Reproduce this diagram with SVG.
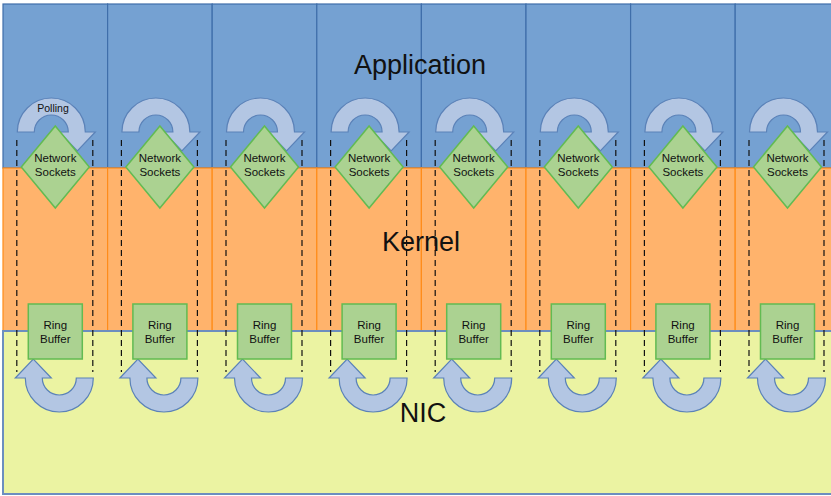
<svg xmlns="http://www.w3.org/2000/svg" xmlns:xlink="http://www.w3.org/1999/xlink" width="831" height="496" viewBox="0 0 831 496">
  <style>
    .app { fill: #75A1D2; stroke: #3F6EAA; stroke-width: 1.2; }
    .ker { fill: #FFB36C; stroke: #FF8C1A; stroke-width: 1.2; }
    .nic { fill: #EBF3A2; stroke: #6C8EBF; stroke-width: 2; }
    .turn { fill: #B3C6E3; stroke: #5B82B8; stroke-width: 1.2; }
    .sock { fill: #ABD291; stroke: #62BB52; stroke-width: 1.5; }
    .ring { fill: #ABD291; stroke: #62BB52; stroke-width: 1.5; }
    .lane { stroke: #111; stroke-width: 1.2; stroke-dasharray: 6 4; fill: none; }
    .lbl { font-family: "Liberation Sans", Arial, sans-serif; fill: #111; text-anchor: middle; }
    .small { font-size: 11.5px; }
    .big { font-size: 27px; }
  </style>
  <defs>
    <!-- U-turn arrow around origin: arc below, arrowhead on the left pointing up -->
    <path id="uturn" d="M-34,0 A34,34 0 0 0 34,0 L17,0 A17,17 0 0 1 -17,0 L-8,0 L-26,-19 L-44,0 Z"/>
  </defs>

  <!-- Layer bands -->
  <g id="application">
    <rect class="app" x="3" y="4" width="104.6" height="164"/>
    <rect class="app" x="107.6" y="4" width="104.6" height="164"/>
    <rect class="app" x="212.2" y="4" width="104.6" height="164"/>
    <rect class="app" x="316.8" y="4" width="104.6" height="164"/>
    <rect class="app" x="421.4" y="4" width="104.6" height="164"/>
    <rect class="app" x="526" y="4" width="104.6" height="164"/>
    <rect class="app" x="630.6" y="4" width="104.6" height="164"/>
    <rect class="app" x="735.2" y="4" width="104.6" height="164"/>
    <text class="lbl big" x="420" y="74">Application</text>
  </g>
  <g id="kernel">
    <rect class="ker" x="3" y="168" width="104.6" height="163"/>
    <rect class="ker" x="107.6" y="168" width="104.6" height="163"/>
    <rect class="ker" x="212.2" y="168" width="104.6" height="163"/>
    <rect class="ker" x="316.8" y="168" width="104.6" height="163"/>
    <rect class="ker" x="421.4" y="168" width="104.6" height="163"/>
    <rect class="ker" x="526" y="168" width="104.6" height="163"/>
    <rect class="ker" x="630.6" y="168" width="104.6" height="163"/>
    <rect class="ker" x="735.2" y="168" width="104.6" height="163"/>
    <text class="lbl big" x="421" y="251">Kernel</text>
  </g>
  <g id="nic">
    <rect class="nic" x="3" y="331" width="840" height="163"/>
    <text class="lbl big" x="423" y="422">NIC</text>
  </g>

  <!-- Polling loops (top) and receive loops (bottom) -->
  <g id="connectors">
    <use xlink:href="#uturn" class="turn" transform="translate(51.3,132) rotate(180)"/>
    <use xlink:href="#uturn" class="turn" transform="translate(155.9,132) rotate(180)"/>
    <use xlink:href="#uturn" class="turn" transform="translate(260.5,132) rotate(180)"/>
    <use xlink:href="#uturn" class="turn" transform="translate(365.1,132) rotate(180)"/>
    <use xlink:href="#uturn" class="turn" transform="translate(469.7,132) rotate(180)"/>
    <use xlink:href="#uturn" class="turn" transform="translate(574.3,132) rotate(180)"/>
    <use xlink:href="#uturn" class="turn" transform="translate(678.9,132) rotate(180)"/>
    <use xlink:href="#uturn" class="turn" transform="translate(783.5,132) rotate(180)"/>

    <use xlink:href="#uturn" class="turn" transform="translate(59.3,378)"/>
    <use xlink:href="#uturn" class="turn" transform="translate(163.9,378)"/>
    <use xlink:href="#uturn" class="turn" transform="translate(268.5,378)"/>
    <use xlink:href="#uturn" class="turn" transform="translate(373.1,378)"/>
    <use xlink:href="#uturn" class="turn" transform="translate(477.7,378)"/>
    <use xlink:href="#uturn" class="turn" transform="translate(582.3,378)"/>
    <use xlink:href="#uturn" class="turn" transform="translate(686.9,378)"/>
    <use xlink:href="#uturn" class="turn" transform="translate(791.5,378)"/>
    <text class="lbl" x="53" y="112" font-size="10.5">Polling</text>
  </g>

  <!-- Network socket diamonds -->
  <g id="socket-1"><polygon class="sock" points="55.3,126 89.3,167 55.3,208 21.3,167"/><text class="lbl small" x="55.3" y="162">Network</text><text class="lbl small" x="55.3" y="176">Sockets</text></g>
  <g id="socket-2"><polygon class="sock" points="159.9,126 193.9,167 159.9,208 125.9,167"/><text class="lbl small" x="159.9" y="162">Network</text><text class="lbl small" x="159.9" y="176">Sockets</text></g>
  <g id="socket-3"><polygon class="sock" points="264.5,126 298.5,167 264.5,208 230.5,167"/><text class="lbl small" x="264.5" y="162">Network</text><text class="lbl small" x="264.5" y="176">Sockets</text></g>
  <g id="socket-4"><polygon class="sock" points="369.1,126 403.1,167 369.1,208 335.1,167"/><text class="lbl small" x="369.1" y="162">Network</text><text class="lbl small" x="369.1" y="176">Sockets</text></g>
  <g id="socket-5"><polygon class="sock" points="473.7,126 507.7,167 473.7,208 439.7,167"/><text class="lbl small" x="473.7" y="162">Network</text><text class="lbl small" x="473.7" y="176">Sockets</text></g>
  <g id="socket-6"><polygon class="sock" points="578.3,126 612.3,167 578.3,208 544.3,167"/><text class="lbl small" x="578.3" y="162">Network</text><text class="lbl small" x="578.3" y="176">Sockets</text></g>
  <g id="socket-7"><polygon class="sock" points="682.9,126 716.9,167 682.9,208 648.9,167"/><text class="lbl small" x="682.9" y="162">Network</text><text class="lbl small" x="682.9" y="176">Sockets</text></g>
  <g id="socket-8"><polygon class="sock" points="787.5,126 821.5,167 787.5,208 753.5,167"/><text class="lbl small" x="787.5" y="162">Network</text><text class="lbl small" x="787.5" y="176">Sockets</text></g>

  <!-- Ring buffers -->
  <g id="ring-1"><rect class="ring" x="28.3" y="304" width="54" height="55"/><text class="lbl small" x="55.3" y="329">Ring</text><text class="lbl small" x="55.3" y="343">Buffer</text></g>
  <g id="ring-2"><rect class="ring" x="132.9" y="304" width="54" height="55"/><text class="lbl small" x="159.9" y="329">Ring</text><text class="lbl small" x="159.9" y="343">Buffer</text></g>
  <g id="ring-3"><rect class="ring" x="237.5" y="304" width="54" height="55"/><text class="lbl small" x="264.5" y="329">Ring</text><text class="lbl small" x="264.5" y="343">Buffer</text></g>
  <g id="ring-4"><rect class="ring" x="342.1" y="304" width="54" height="55"/><text class="lbl small" x="369.1" y="329">Ring</text><text class="lbl small" x="369.1" y="343">Buffer</text></g>
  <g id="ring-5"><rect class="ring" x="446.7" y="304" width="54" height="55"/><text class="lbl small" x="473.7" y="329">Ring</text><text class="lbl small" x="473.7" y="343">Buffer</text></g>
  <g id="ring-6"><rect class="ring" x="551.3" y="304" width="54" height="55"/><text class="lbl small" x="578.3" y="329">Ring</text><text class="lbl small" x="578.3" y="343">Buffer</text></g>
  <g id="ring-7"><rect class="ring" x="655.9" y="304" width="54" height="55"/><text class="lbl small" x="682.9" y="329">Ring</text><text class="lbl small" x="682.9" y="343">Buffer</text></g>
  <g id="ring-8"><rect class="ring" x="760.5" y="304" width="54" height="55"/><text class="lbl small" x="787.5" y="329">Ring</text><text class="lbl small" x="787.5" y="343">Buffer</text></g>

  <!-- Dashed lane boundaries per socket -->
  <g id="lanes">
    <path class="lane" d="M16.8,140 V372 M92.8,140 V372"/>
    <path class="lane" d="M121.4,140 V372 M197.4,140 V372"/>
    <path class="lane" d="M226,140 V372 M302,140 V372"/>
    <path class="lane" d="M330.6,140 V372 M406.6,140 V372"/>
    <path class="lane" d="M435.2,140 V372 M511.2,140 V372"/>
    <path class="lane" d="M539.8,140 V372 M615.8,140 V372"/>
    <path class="lane" d="M644.4,140 V372 M720.4,140 V372"/>
    <path class="lane" d="M749,140 V372 M824,140 V372"/>
  </g>
</svg>
